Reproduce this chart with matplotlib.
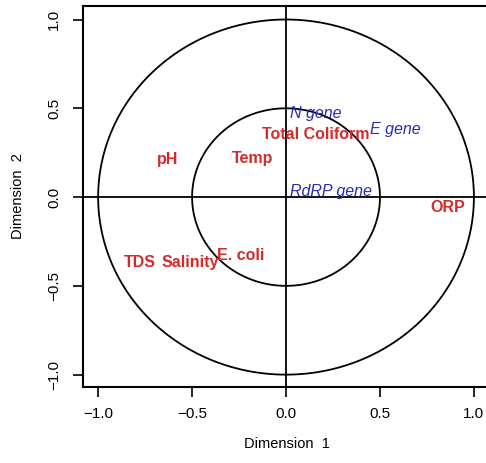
import numpy as np
import matplotlib
matplotlib.use("Agg")
import matplotlib.pyplot as plt

plt.rcParams['font.family'] = ['Liberation Sans', 'DejaVu Sans']

# Variables (red, bold)
red_labels = ["pH", "Temp", "Total Coliform", "ORP", "TDS", "Salinity", "E. coli"]
red_x = [-0.63, -0.18, 0.16, 0.86, -0.78, -0.51, -0.24]
red_y = [0.21, 0.22, 0.35, -0.06, -0.37, -0.37, -0.33]

# Genes (blue, italic)
blue_labels = ["N gene", "E gene", "RdRP gene"]
blue_x = [0.16, 0.58, 0.24]
blue_y = [0.47, 0.38, 0.03]

circle_radii = [1.0, 0.5]
ticks = [-1.0, -0.5, 0.0, 0.5, 1.0]
tick_labels = ["\u22121.0", "\u22120.5", "0.0", "0.5", "1.0"]

fig = plt.figure(figsize=(4.86, 4.63), dpi=100)
ax = fig.add_axes([0.171, 0.164, 0.837, 0.823])
ax.set_xlim(-1.08, 1.085)
ax.set_ylim(-1.07, 1.076)

th = np.linspace(0, 2 * np.pi, 400)
for r in circle_radii:
    ax.plot(r * np.cos(th), r * np.sin(th), color='black', lw=1.3)
ax.axhline(0, color='black', lw=1.3)
ax.axvline(0, color='black', lw=1.3)

for lab, x, y in zip(red_labels, red_x, red_y):
    ax.text(x, y, lab, color='#d42a2a', fontweight='bold', fontsize=11.5,
            ha='center', va='center')
for lab, x, y in zip(blue_labels, blue_x, blue_y):
    ax.text(x, y, lab, color='#2a2ab4', fontstyle='italic', fontsize=11.5,
            ha='center', va='center')

ax.set_xticks(ticks)
ax.set_xticklabels(tick_labels)
ax.set_yticks(ticks)
ax.set_yticklabels(tick_labels, rotation=90, va='center')
ax.tick_params(direction='out', length=7, width=1.2, labelsize=11)
ax.tick_params(axis='y', pad=9)
ax.tick_params(axis='x', pad=7)
for s in ax.spines.values():
    s.set_linewidth(1.5)

ax.set_xlabel("Dimension  1", fontsize=10.5, labelpad=12)
ax.set_ylabel("Dimension  2", fontsize=10.5, labelpad=16)

fig.savefig("out.png", dpi=100)
